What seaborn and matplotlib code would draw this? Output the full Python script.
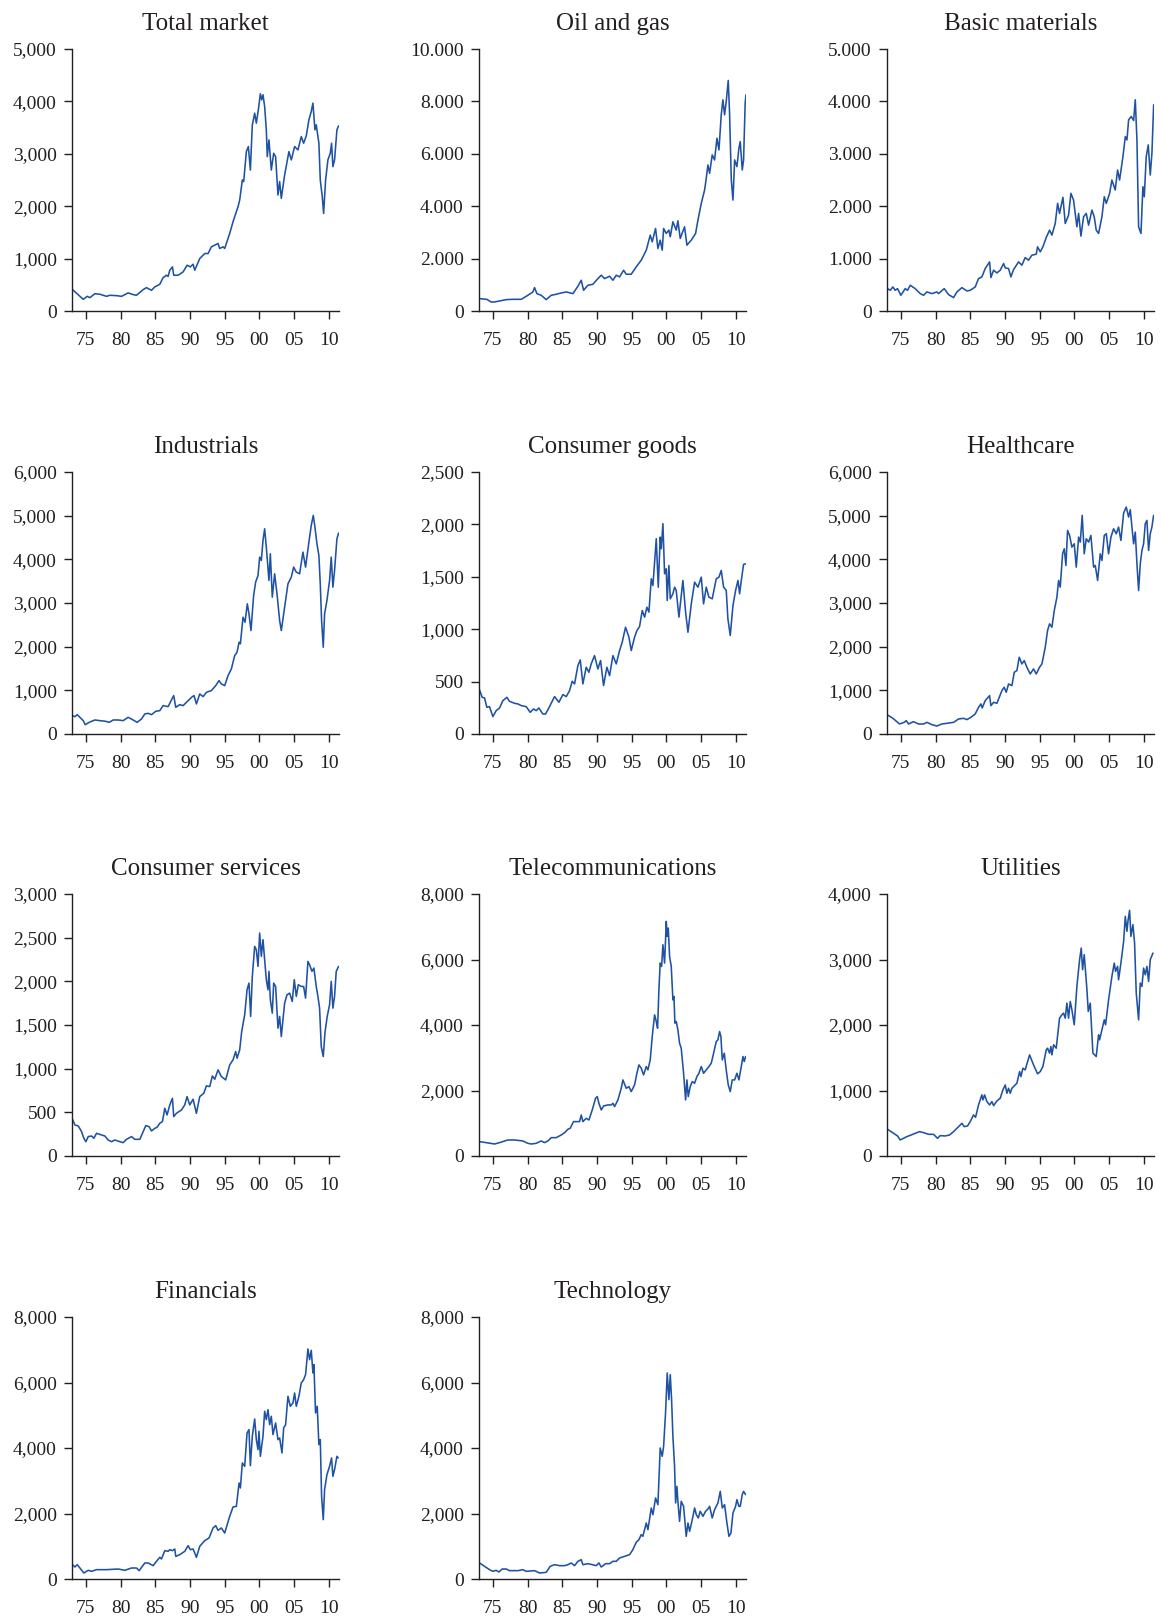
import matplotlib
matplotlib.use("Agg")
import matplotlib.pyplot as plt
from matplotlib.ticker import FuncFormatter, FixedLocator
import seaborn as sns
import pandas as pd

# ---------------- data (year, index level) ----------------
total_market = [(1973.08, 408), (1974.62, 223), (1975.19, 280), (1975.58, 255), (1976.3, 330), (1977.02, 320),
    (1977.98, 280), (1978.46, 300), (1979.42, 293), (1980.14, 280), (1981.1, 345), (1981.82, 313), (1982.3, 300),
    (1983.26, 408), (1983.74, 446), (1984.46, 395), (1984.94, 460), (1985.66, 510), (1986.14, 638), (1986.62, 682),
    (1986.86, 660), (1987.1, 778), (1987.48, 842), (1987.67, 682), (1988.3, 682), (1989.02, 746), (1989.6, 874),
    (1990.07, 842), (1990.46, 893), (1990.7, 778), (1991.42, 1001), (1992.14, 1097), (1992.62, 1097), (1993.1, 1225),
    (1994.06, 1288), (1994.3, 1193), (1994.78, 1225), (1995.02, 1193), (1995.74, 1480), (1996.22, 1703),
    (1996.46, 1800), (1996.94, 1990), (1997.18, 2117), (1997.56, 2500), (1997.76, 2470), (1998.14, 3042),
    (1998.43, 3138), (1998.72, 2690), (1999.0, 3550), (1999.34, 3775), (1999.58, 3585), (1999.87, 3840),
    (2000.16, 4145), (2000.35, 4030), (2000.54, 4127), (2000.78, 3900), (2001.02, 3457), (2001.16, 2946),
    (2001.4, 3265), (2001.74, 2690), (2002.08, 3010), (2002.36, 2946), (2002.7, 2213), (2002.94, 2470),
    (2003.18, 2150), (2003.66, 2595), (2004.28, 3042), (2004.62, 2883), (2005.1, 3138), (2005.58, 3074),
    (2006.06, 3329), (2006.4, 3202), (2006.78, 3342), (2007.16, 3648), (2007.5, 3808), (2007.74, 3967),
    (2008.03, 3457), (2008.22, 3553), (2008.6, 3202), (2008.8, 2500), (2009.09, 2181), (2009.28, 1862),
    (2009.57, 2500), (2009.9, 2883), (2010.24, 3010), (2010.43, 3202), (2010.62, 2755), (2010.86, 2883),
    (2011.2, 3457), (2011.44, 3533)]

oil_gas = [(1973.08, 472), (1974.13, 446), (1974.76, 344), (1975.24, 344), (1975.96, 383), (1976.92, 434),
    (1977.88, 446), (1979.09, 446), (1980.05, 600), (1980.77, 727), (1981.01, 893), (1981.35, 663), (1981.97, 600),
    (1982.69, 434), (1983.41, 600), (1984.13, 638), (1984.86, 689), (1985.58, 727), (1986.54, 663), (1987.26, 944),
    (1987.74, 1173), (1988.08, 791), (1988.7, 982), (1989.42, 1020), (1990.14, 1237), (1990.63, 1365),
    (1991.11, 1237), (1991.83, 1326), (1992.31, 1173), (1992.79, 1365), (1993.27, 1301), (1993.85, 1556),
    (1994.23, 1403), (1994.95, 1403), (1995.67, 1684), (1996.39, 1939), (1997.12, 2321), (1997.69, 2895),
    (1997.98, 2640), (1998.46, 3150), (1998.8, 2385), (1999.13, 2704), (1999.42, 2321), (1999.62, 3150),
    (2000.0, 2959), (2000.38, 3087), (2000.58, 2832), (2000.96, 3405), (2001.44, 3087), (2001.68, 3444),
    (2002.02, 2768), (2002.64, 3214), (2002.98, 2513), (2003.61, 2704), (2004.23, 2959), (2004.57, 3469),
    (2005.05, 4107), (2005.53, 4617), (2005.67, 4872), (2006.01, 5574), (2006.25, 5255), (2006.63, 5957),
    (2006.97, 5765), (2007.31, 6594), (2007.6, 6148), (2007.93, 7487), (2008.17, 8061), (2008.41, 7487),
    (2008.65, 7997), (2008.94, 8801), (2009.13, 7551), (2009.38, 5000), (2009.62, 4235), (2009.86, 5765),
    (2010.19, 5510), (2010.48, 6212), (2010.67, 6467), (2010.96, 5383), (2011.15, 5765), (2011.38, 7934),
    (2011.5, 8253)]

basic_materials = [(1973.08, 427), (1973.46, 395), (1973.85, 459), (1974.18, 395), (1974.52, 427), (1975.0, 300),
    (1975.63, 427), (1975.96, 395), (1976.35, 491), (1977.07, 427), (1977.79, 332), (1978.27, 300), (1978.75, 364),
    (1979.47, 332), (1980.19, 364), (1980.43, 332), (1981.25, 427), (1981.88, 313), (1982.6, 255), (1983.08, 364),
    (1983.8, 446), (1984.52, 383), (1985.0, 395), (1985.72, 459), (1986.2, 619), (1986.68, 650), (1987.16, 810),
    (1987.79, 937), (1987.98, 638), (1988.37, 778), (1988.85, 727), (1989.33, 778), (1989.81, 906), (1990.05, 823),
    (1990.53, 810), (1990.87, 650), (1991.25, 791), (1991.97, 937), (1992.45, 874), (1992.93, 1020), (1993.41, 969),
    (1993.89, 1065), (1994.52, 1084), (1994.71, 1225), (1995.1, 1129), (1995.48, 1225), (1995.96, 1403),
    (1996.44, 1543), (1996.78, 1448), (1997.26, 1671), (1997.6, 2054), (1997.88, 1862), (1998.37, 2169),
    (1998.7, 1671), (1999.18, 1830), (1999.52, 2245), (1999.9, 2117), (2000.14, 1862), (2000.38, 1607),
    (2000.63, 1862), (2000.96, 1429), (2001.35, 1799), (2001.73, 1862), (2002.07, 1639), (2002.55, 1926),
    (2002.88, 1799), (2003.17, 1543), (2003.51, 1480), (2003.99, 1799), (2004.33, 2181), (2004.62, 2054),
    (2005.1, 2245), (2005.43, 2500), (2005.91, 2309), (2006.25, 2691), (2006.54, 2500), (2007.02, 2946),
    (2007.36, 3329), (2007.6, 3265), (2007.84, 3648), (2008.22, 3712), (2008.56, 3635), (2008.8, 4031),
    (2009.04, 3265), (2009.28, 1607), (2009.62, 1480), (2009.9, 2373), (2010.1, 2181), (2010.38, 2946),
    (2010.67, 3170), (2010.96, 2595), (2011.2, 3010), (2011.45, 3935)]

industrials = [(1973.08, 420), (1973.42, 397), (1973.75, 443), (1974.14, 382), (1974.62, 306), (1974.9, 214),
    (1975.48, 267), (1976.3, 321), (1977.02, 306), (1977.88, 290), (1978.36, 267), (1978.94, 321), (1979.66, 321),
    (1980.38, 306), (1981.1, 382), (1981.82, 321), (1982.39, 267), (1983.02, 344), (1983.5, 459), (1983.98, 474),
    (1984.46, 443), (1985.08, 520), (1985.66, 535), (1986.14, 650), (1986.86, 627), (1987.34, 780), (1987.67, 879),
    (1987.96, 611), (1988.54, 673), (1989.02, 650), (1989.74, 764), (1990.36, 856), (1990.6, 879), (1990.94, 688),
    (1991.42, 917), (1991.9, 856), (1992.38, 955), (1993.1, 994), (1993.72, 1108), (1994.2, 1223), (1994.54, 1146),
    (1995.02, 1108), (1995.5, 1338), (1995.98, 1490), (1996.46, 1796), (1996.8, 1873), (1997.09, 2102),
    (1997.28, 2064), (1997.66, 2675), (1997.95, 2560), (1998.28, 2981), (1998.52, 2751), (1998.81, 2369),
    (1999.19, 3172), (1999.48, 3478), (1999.82, 3630), (2000.06, 4051), (2000.3, 3974), (2000.54, 4433),
    (2000.78, 4700), (2001.02, 4280), (2001.4, 3516), (2001.6, 4127), (2001.88, 3134), (2002.22, 3669),
    (2002.56, 3210), (2002.94, 2598), (2003.18, 2369), (2003.66, 2904), (2004.14, 3439), (2004.62, 3592),
    (2004.96, 3822), (2005.34, 3707), (2005.82, 3669), (2006.3, 4165), (2006.68, 3822), (2007.16, 4395),
    (2007.5, 4777), (2007.79, 5006), (2008.03, 4739), (2008.32, 4356), (2008.6, 4089), (2008.8, 3439),
    (2008.99, 2598), (2009.23, 1987), (2009.42, 2751), (2009.76, 3057), (2010.14, 3516), (2010.38, 4051),
    (2010.62, 3363), (2010.86, 3745), (2011.2, 4471), (2011.44, 4601)]

consumer_goods = [(1973.08, 420), (1973.46, 350), (1973.8, 344), (1974.13, 255), (1974.52, 261), (1975.0, 166),
    (1975.48, 223), (1975.96, 248), (1976.44, 318), (1977.02, 350), (1977.4, 312), (1978.13, 293), (1978.61, 287),
    (1979.09, 271), (1979.81, 261), (1980.38, 207), (1980.87, 239), (1981.25, 223), (1981.63, 248), (1982.21, 191),
    (1982.6, 191), (1983.17, 261), (1983.89, 357), (1984.52, 303), (1985.1, 376), (1985.58, 357), (1986.06, 414),
    (1986.44, 503), (1986.78, 478), (1987.26, 653), (1987.6, 707), (1987.98, 478), (1988.46, 637), (1988.85, 589),
    (1989.18, 669), (1989.66, 748), (1990.14, 621), (1990.53, 701), (1990.96, 462), (1991.44, 637), (1991.83, 557),
    (1992.31, 748), (1992.79, 669), (1993.27, 796), (1993.65, 876), (1994.13, 1019), (1994.62, 924), (1994.95, 796),
    (1995.43, 924), (1995.77, 987), (1996.15, 1025), (1996.54, 1178), (1996.88, 1115), (1997.21, 1210),
    (1997.5, 1163), (1997.84, 1481), (1998.08, 1417), (1998.56, 1863), (1998.85, 1401), (1999.13, 1879),
    (1999.28, 1768), (1999.52, 2007), (1999.76, 1529), (2000.0, 1577), (2000.14, 1274), (2000.38, 1608),
    (2000.58, 1290), (2000.96, 1338), (2001.2, 1401), (2001.44, 1370), (2001.83, 1115), (2002.4, 1465),
    (2002.79, 1163), (2003.13, 971), (2003.61, 1242), (2004.09, 1449), (2004.57, 1401), (2005.05, 1497),
    (2005.38, 1242), (2005.77, 1401), (2006.15, 1306), (2006.63, 1290), (2007.21, 1481), (2007.6, 1497),
    (2007.93, 1561), (2008.27, 1401), (2008.65, 1370), (2008.89, 1099), (2009.23, 940), (2009.62, 1226),
    (2010.0, 1370), (2010.34, 1465), (2010.58, 1338), (2010.82, 1465), (2011.15, 1618), (2011.44, 1624)]

healthcare = [(1973.08, 436), (1973.85, 359), (1974.81, 229), (1975.48, 267), (1975.77, 306), (1976.11, 229),
    (1976.83, 283), (1977.55, 229), (1978.27, 229), (1978.75, 267), (1979.47, 214), (1980.19, 183), (1980.91, 229),
    (1981.63, 245), (1982.6, 267), (1983.32, 344), (1984.04, 359), (1984.52, 329), (1985.1, 382), (1985.72, 459),
    (1986.2, 611), (1986.54, 688), (1986.73, 596), (1987.16, 764), (1987.79, 879), (1987.98, 650), (1988.37, 726),
    (1988.85, 703), (1989.57, 994), (1989.9, 1070), (1990.19, 955), (1990.53, 1146), (1991.01, 1108),
    (1991.35, 1414), (1991.73, 1452), (1992.07, 1758), (1992.45, 1605), (1992.79, 1681), (1993.17, 1529),
    (1993.65, 1376), (1994.13, 1490), (1994.52, 1376), (1995.0, 1529), (1995.34, 1605), (1995.82, 1987),
    (1996.15, 2369), (1996.44, 2522), (1996.78, 2446), (1997.12, 2828), (1997.5, 3134), (1997.74, 3516),
    (1997.98, 3363), (1998.32, 4127), (1998.56, 4242), (1998.8, 3860), (1999.04, 4662), (1999.33, 4548),
    (1999.66, 4280), (2000.0, 4356), (2000.29, 3822), (2000.63, 4509), (2000.87, 4395), (2001.15, 5006),
    (2001.44, 4127), (2001.73, 4471), (2002.07, 4395), (2002.4, 4548), (2002.79, 3822), (2003.03, 3860),
    (2003.37, 3516), (2003.75, 4127), (2003.99, 3974), (2004.33, 4548), (2004.62, 4586), (2004.95, 4127),
    (2005.29, 4509), (2005.67, 4700), (2006.06, 4586), (2006.39, 4739), (2006.73, 4433), (2007.12, 5060),
    (2007.5, 5197), (2007.84, 4968), (2008.08, 5136), (2008.32, 4739), (2008.56, 4356), (2008.8, 4624),
    (2009.04, 3898), (2009.28, 3287), (2009.52, 3898), (2009.76, 4204), (2010.0, 4356), (2010.24, 4815),
    (2010.48, 4892), (2010.72, 4204), (2010.96, 4586), (2011.2, 4739), (2011.44, 5006)]

consumer_services = [(1973.08, 420), (1973.42, 355), (1973.9, 344), (1974.38, 279), (1974.71, 203), (1975.0, 164),
    (1975.34, 222), (1975.82, 229), (1976.15, 203), (1976.54, 260), (1977.26, 241), (1977.74, 229), (1978.22, 183),
    (1978.7, 164), (1979.18, 183), (1979.9, 164), (1980.38, 153), (1980.86, 191), (1981.58, 222), (1982.06, 191),
    (1982.78, 191), (1983.16, 260), (1983.64, 348), (1984.12, 336), (1984.46, 287), (1984.94, 317), (1985.27, 329),
    (1985.66, 375), (1986.04, 394), (1986.38, 547), (1986.71, 470), (1987.1, 585), (1987.48, 661), (1987.67, 451),
    (1988.06, 489), (1988.78, 527), (1989.26, 585), (1989.59, 680), (1989.98, 585), (1990.46, 650), (1990.94, 489),
    (1991.42, 680), (1992.0, 718), (1992.38, 803), (1992.86, 795), (1993.24, 917), (1993.58, 879), (1994.06, 986),
    (1994.54, 910), (1995.16, 871), (1995.74, 1043), (1996.22, 1101), (1996.6, 1196), (1996.8, 1120),
    (1997.18, 1215), (1997.47, 1426), (1997.9, 1617), (1998.24, 1903), (1998.52, 1980), (1998.76, 1598),
    (1999.0, 2056), (1999.34, 2400), (1999.58, 2362), (1999.82, 2171), (2000.06, 2553), (2000.3, 2286),
    (2000.54, 2477), (2000.78, 2247), (2001.02, 2018), (2001.26, 1903), (2001.4, 2114), (2001.6, 1789),
    (2001.88, 1636), (2002.08, 1980), (2002.36, 1941), (2002.7, 1464), (2002.94, 1598), (2003.18, 1368),
    (2003.66, 1751), (2004.0, 1846), (2004.38, 1865), (2004.76, 1770), (2005.05, 2018), (2005.34, 1827),
    (2005.63, 1961), (2006.06, 1941), (2006.4, 1941), (2006.68, 1808), (2007.02, 2228), (2007.26, 2190),
    (2007.6, 2114), (2007.88, 2152), (2008.22, 1941), (2008.46, 1827), (2008.7, 1693), (2008.94, 1254),
    (2009.23, 1139), (2009.47, 1407), (2009.8, 1598), (2010.14, 1731), (2010.38, 1999), (2010.62, 1693),
    (2010.86, 1827), (2011.1, 2114), (2011.44, 2171)]

telecommunications = [(1973.08, 438), (1974.04, 408), (1975.24, 367), (1975.96, 408), (1977.16, 489),
    (1978.13, 489), (1979.33, 459), (1980.05, 387), (1980.53, 367), (1981.25, 387), (1981.97, 459), (1982.45, 408),
    (1982.93, 459), (1983.41, 560), (1984.13, 560), (1984.86, 642), (1985.34, 713), (1985.82, 815), (1986.15, 846),
    (1986.63, 1050), (1987.5, 1050), (1987.74, 1253), (1987.98, 1050), (1988.46, 1151), (1988.85, 1100),
    (1989.33, 1406), (1989.81, 1763), (1990.05, 1814), (1990.29, 1610), (1990.63, 1406), (1990.96, 1528),
    (1991.59, 1559), (1992.07, 1559), (1992.31, 1610), (1992.55, 1508), (1993.03, 1712), (1993.51, 2068),
    (1993.75, 2323), (1994.23, 2068), (1994.62, 2119), (1994.95, 1967), (1995.43, 2170), (1995.77, 2527),
    (1996.06, 2782), (1996.39, 2680), (1996.73, 2476), (1997.12, 2731), (1997.36, 2629), (1997.69, 2935),
    (1997.98, 3648), (1998.32, 4310), (1998.56, 4107), (1998.75, 3903), (1998.94, 5075), (1999.13, 5890),
    (1999.33, 5788), (1999.52, 6450), (1999.76, 5890), (1999.9, 6603), (2000.0, 7164), (2000.14, 6705),
    (2000.29, 6960), (2000.48, 6094), (2000.72, 5788), (2000.96, 4769), (2001.11, 4871), (2001.25, 4056),
    (2001.44, 4107), (2001.68, 3852), (2001.92, 3444), (2002.16, 3291), (2002.5, 2527), (2002.79, 1712),
    (2002.98, 2323), (2003.17, 1814), (2003.46, 2119), (2003.75, 2272), (2004.09, 2221), (2004.42, 2425),
    (2004.71, 2527), (2005.05, 2731), (2005.38, 2527), (2005.77, 2629), (2006.15, 2731), (2006.49, 2833),
    (2006.83, 3138), (2007.21, 3495), (2007.45, 3546), (2007.69, 3801), (2007.88, 3648), (2008.08, 2935),
    (2008.37, 3138), (2008.65, 2629), (2008.94, 2170), (2009.23, 1967), (2009.52, 2323), (2009.86, 2323),
    (2010.19, 2527), (2010.48, 2323), (2010.82, 2731), (2011.06, 3037), (2011.25, 2884), (2011.44, 3037)]

utilities = [(1973.08, 408), (1973.94, 347), (1974.52, 306), (1974.9, 245), (1975.87, 296), (1976.83, 336),
    (1977.69, 372), (1978.27, 357), (1978.99, 331), (1979.71, 331), (1980.29, 270), (1980.67, 311), (1981.39, 306),
    (1982.02, 321), (1982.6, 372), (1983.08, 423), (1983.8, 499), (1984.13, 448), (1984.62, 459), (1985.0, 525),
    (1985.48, 627), (1985.77, 591), (1986.2, 780), (1986.68, 933), (1986.83, 856), (1987.07, 933), (1987.4, 831),
    (1987.79, 780), (1988.13, 831), (1988.37, 769), (1988.85, 841), (1989.33, 882), (1989.71, 1009),
    (1990.05, 1085), (1990.29, 958), (1990.53, 1034), (1990.77, 958), (1991.01, 1034), (1991.73, 1111),
    (1992.12, 1289), (1992.31, 1213), (1992.6, 1340), (1992.93, 1315), (1993.56, 1544), (1994.13, 1391),
    (1994.71, 1254), (1995.1, 1289), (1995.48, 1366), (1995.96, 1620), (1996.15, 1646), (1996.44, 1570),
    (1996.63, 1671), (1996.78, 1544), (1997.02, 1697), (1997.4, 1646), (1997.88, 2105), (1998.22, 2156),
    (1998.46, 2181), (1998.7, 2105), (1998.94, 2334), (1999.18, 2105), (1999.42, 2359), (1999.66, 2232),
    (2000.0, 2003), (2000.38, 2589), (2000.77, 2996), (2001.01, 3175), (2001.2, 2844), (2001.44, 3073),
    (2001.83, 2538), (2002.02, 2207), (2002.31, 2334), (2002.69, 1570), (2003.17, 1519), (2003.51, 1850),
    (2003.65, 1773), (2003.99, 1926), (2004.33, 2079), (2004.52, 2003), (2004.95, 2385), (2005.43, 2742),
    (2005.77, 2945), (2005.96, 2818), (2006.25, 2895), (2006.39, 2691), (2006.73, 2945), (2007.12, 3277),
    (2007.36, 3659), (2007.6, 3430), (2007.74, 3582), (2007.98, 3751), (2008.17, 3353), (2008.46, 3532),
    (2008.7, 3251), (2008.94, 2487), (2009.28, 2079), (2009.52, 2640), (2009.76, 2589), (2010.0, 2869),
    (2010.24, 2767), (2010.48, 2895), (2010.72, 2665), (2010.96, 2996), (2011.35, 3098)]

financials = [(1973.08, 438), (1973.42, 366), (1973.75, 438), (1974.14, 336), (1974.71, 183), (1975.34, 265),
    (1975.82, 234), (1976.54, 285), (1977.98, 285), (1979.66, 305), (1980.62, 265), (1981.58, 336), (1982.3, 336),
    (1982.68, 255), (1983.5, 489), (1983.98, 489), (1984.7, 407), (1985.18, 540), (1985.66, 662), (1985.9, 611),
    (1986.38, 865), (1986.86, 845), (1987.1, 896), (1987.48, 865), (1987.82, 916), (1987.96, 692), (1988.54, 743),
    (1989.26, 845), (1989.74, 1018), (1990.07, 896), (1990.46, 916), (1990.7, 794), (1990.94, 662), (1991.42, 998),
    (1992.14, 1171), (1992.76, 1252), (1993.34, 1558), (1993.72, 1629), (1994.06, 1486), (1994.54, 1558),
    (1995.02, 1405), (1995.74, 1914), (1996.22, 2199), (1996.7, 2219), (1997.09, 2932), (1997.28, 2779),
    (1997.56, 3543), (1997.9, 3441), (1998.24, 4459), (1998.52, 4561), (1998.72, 3461), (1999.0, 4357),
    (1999.34, 4886), (1999.58, 4255), (1999.82, 3950), (1999.96, 4510), (2000.16, 3746), (2000.54, 4357),
    (2000.78, 5121), (2001.02, 4866), (2001.26, 5171), (2001.5, 4713), (2001.74, 4968), (2001.98, 4408),
    (2002.36, 4764), (2002.7, 4255), (2002.94, 4306), (2003.28, 3848), (2003.52, 4612), (2003.8, 4713),
    (2004.14, 5579), (2004.48, 5273), (2004.86, 5375), (2005.1, 5680), (2005.34, 5273), (2005.72, 5579),
    (2006.06, 5986), (2006.4, 6088), (2006.68, 6240), (2007.02, 7024), (2007.26, 6698), (2007.5, 6983),
    (2007.74, 6291), (2007.88, 6546), (2008.12, 5070), (2008.36, 5273), (2008.6, 4103), (2008.8, 4255),
    (2008.99, 2525), (2009.23, 1812), (2009.42, 2728), (2009.76, 3186), (2010.14, 3441), (2010.43, 3695),
    (2010.62, 3135), (2010.86, 3339), (2011.2, 3746), (2011.39, 3695)]

technology = [(1973.08, 489), (1973.8, 387), (1974.52, 285), (1975.0, 234), (1975.48, 265), (1975.87, 214),
    (1976.35, 305), (1976.92, 305), (1977.4, 255), (1978.61, 255), (1979.33, 285), (1979.81, 234), (1981.01, 255),
    (1981.73, 183), (1982.69, 204), (1983.27, 387), (1983.89, 438), (1984.62, 407), (1985.34, 407), (1985.82, 438),
    (1986.3, 489), (1986.78, 407), (1987.26, 540), (1987.74, 590), (1987.98, 438), (1988.7, 468), (1989.33, 438),
    (1989.9, 407), (1990.29, 489), (1990.63, 366), (1991.25, 468), (1991.83, 468), (1992.31, 540), (1992.79, 540),
    (1993.27, 641), (1993.99, 692), (1994.71, 743), (1995.19, 896), (1995.67, 1120), (1996.06, 1201),
    (1996.39, 1354), (1996.63, 1303), (1997.12, 1710), (1997.36, 1507), (1997.84, 2168), (1998.08, 1965),
    (1998.46, 2474), (1998.8, 2270), (1999.13, 4001), (1999.42, 3746), (1999.62, 4052), (1999.9, 5070),
    (2000.14, 6291), (2000.38, 5477), (2000.58, 6240), (2000.77, 5477), (2000.96, 4357), (2001.2, 3441),
    (2001.35, 2321), (2001.54, 2830), (2001.68, 2372), (2001.92, 1761), (2002.16, 2372), (2002.5, 2219),
    (2002.88, 1303), (2003.13, 1710), (2003.37, 1456), (2003.75, 1812), (2004.09, 2168), (2004.33, 1965),
    (2004.62, 1863), (2004.9, 2067), (2005.29, 1914), (2005.67, 2067), (2006.01, 2138), (2006.25, 2219),
    (2006.63, 1863), (2006.97, 2117), (2007.45, 2321), (2007.79, 2677), (2008.08, 2168), (2008.41, 2270),
    (2008.75, 1710), (2009.04, 1303), (2009.33, 1405), (2009.62, 2016), (2010.0, 2219), (2010.19, 2423),
    (2010.48, 2219), (2010.67, 2219), (2010.96, 2576), (2011.15, 2677), (2011.44, 2576)]

titles = ["Total market", "Oil and gas", "Basic materials", "Industrials", "Consumer goods", "Healthcare",
          "Consumer services", "Telecommunications", "Utilities", "Financials", "Technology"]
series = [total_market, oil_gas, basic_materials, industrials, consumer_goods, healthcare,
          consumer_services, telecommunications, utilities, financials, technology]
y_max = [5000, 10000, 5000, 6000, 2500, 6000, 3000, 8000, 4000, 8000, 8000]
y_step = [1000, 2000, 1000, 1000, 500, 1000, 500, 2000, 1000, 2000, 2000]
thousands_sep = [",", ".", ".", ",", ",", ",", ",", ",", ",", ",", ","]
x_ticks = [1975, 1980, 1985, 1990, 1995, 2000, 2005, 2010]
x_tick_labels = ["75", "80", "85", "90", "95", "00", "05", "10"]

# ---------------- style ----------------
sns.set_style("ticks")
plt.rcParams["font.family"] = ["Liberation Serif", "DejaVu Serif"]
TEXT = "#231f20"
LINE = "#1f52a3"

W, H = 1162, 1618
fig = plt.figure(figsize=(W / 100, H / 100), dpi=100)

col_left = [72, 479, 887]
row_top = [49, 472, 894, 1317]
ax_w, ax_h = 267, 262

for i, (title, data) in enumerate(zip(titles, series)):
    r, c = divmod(i, 3)
    left = col_left[c]
    top = row_top[r]
    ax = fig.add_axes([left / W, 1 - (top + ax_h) / H, ax_w / W, ax_h / H])
    df = pd.DataFrame(data, columns=["year", "value"])
    sns.lineplot(data=df, x="year", y="value", ax=ax, color=LINE, linewidth=1.15,
                 estimator=None, sort=False)
    ax.set_xlim(1973.0, 2011.5)
    ax.set_ylim(0, y_max[i])
    ax.xaxis.set_major_locator(FixedLocator(x_ticks))
    ax.set_xticklabels(x_tick_labels)
    ax.yaxis.set_major_locator(FixedLocator(list(range(0, y_max[i] + 1, y_step[i]))))
    sep = thousands_sep[i]
    ax.yaxis.set_major_formatter(FuncFormatter(lambda v, p, s=sep: f"{int(v):,}".replace(",", s)))
    ax.set_xlabel("")
    ax.set_ylabel("")
    ax.set_title(title, fontsize=18, color=TEXT, pad=14)
    sns.despine(ax=ax)
    for sp in ("left", "bottom"):
        ax.spines[sp].set_color(TEXT)
        ax.spines[sp].set_linewidth(1.0)
    ax.tick_params(axis="both", which="major", labelsize=14, colors=TEXT, length=6, width=1.0)
    ax.tick_params(axis="x", pad=9)
    ax.tick_params(axis="y", pad=5)

fig.savefig("out.png", dpi=100, facecolor="white")
